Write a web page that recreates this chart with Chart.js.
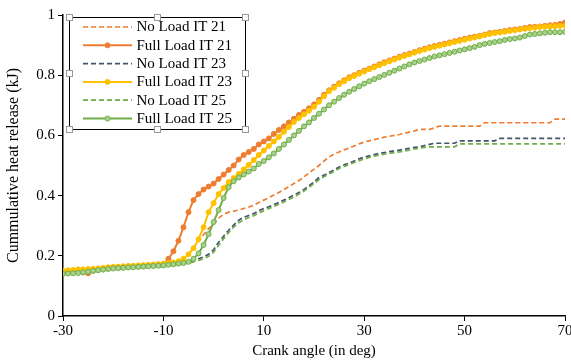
<!DOCTYPE html>
<html>
<head>
<meta charset="utf-8">
<script src="https://cdn.jsdelivr.net/npm/chart.js@4/dist/chart.umd.min.js"></script>
<style>
html,body{margin:0;padding:0;background:#fff;}
canvas{display:block;}
</style>
</head>
<body>
<canvas id="c" width="571" height="360"></canvas>
<script>
const angles = [-30,-29,-28,-27,-26,-25,-24,-23,-22,-21,-20,-19,-18,-17,-16,-15,-14,-13,-12,-11,-10,
-9,-8,-7,-6,-5,-4,-3,-2,-1,0,1,2,3,4,5,6,7,8,9,10,11,12,13,14,15,16,17,18,19,20,
21,22,23,24,25,26,27,28,29,30,31,32,33,34,35,36,37,38,39,40,41,42,43,44,45,46,47,48,49,50,
51,52,53,54,55,56,57,58,59,60,61,62,63,64,65,66,67,68,69,70];

const seriesNames = ["No Load IT 21","Full Load IT 21","No Load IT 23","Full Load IT 23","No Load IT 25","Full Load IT 25"];

const noLoad21 = [0.145,0.147,0.150,0.152,0.153,0.155,0.157,0.158,0.160,0.163,0.165,0.166,0.167,0.168,0.168,0.168,0.168,0.168,0.169,0.170,0.170,
0.172,0.175,0.180,0.190,0.205,0.225,0.250,0.270,0.290,0.305,
0.325,0.338,0.345,0.348,0.352,0.357,0.362,0.368,0.377,0.385,
0.393,0.402,0.410,0.420,0.430,0.440,0.450,0.462,0.475,0.488,
0.500,0.515,0.528,0.538,0.545,0.552,0.558,0.565,0.572,0.578,
0.582,0.586,0.590,0.594,0.597,0.600,0.603,0.607,0.611,0.615,
0.620,0.620,0.620,0.625,0.631,0.631,0.631,0.631,0.631,0.631,
0.631,0.631,0.631,0.642,0.642,0.642,0.642,0.642,0.642,0.642,
0.642,0.642,0.642,0.642,0.642,0.642,0.642,0.654,0.654,0.654];

const fullLoad21 = [0.145,0.145,0.147,0.148,0.145,0.142,0.150,0.155,0.158,0.160,0.162,0.163,0.164,0.165,0.165,0.166,0.167,0.168,0.170,0.171,0.172,
0.190,0.215,0.250,0.295,0.345,0.385,0.405,0.420,0.430,0.440,
0.455,0.470,0.485,0.500,0.520,0.535,0.545,0.555,0.570,0.580,
0.590,0.605,0.618,0.630,0.643,0.655,0.668,0.678,0.690,0.703,
0.718,0.735,0.750,0.762,0.773,0.783,0.793,0.800,0.808,0.815,
0.822,0.829,0.836,0.843,0.849,0.855,0.861,0.867,0.872,0.877,
0.883,0.888,0.893,0.897,0.901,0.905,0.909,0.913,0.917,0.921,
0.925,0.928,0.931,0.935,0.940,0.942,0.944,0.947,0.950,0.952,
0.954,0.957,0.960,0.961,0.962,0.964,0.966,0.967,0.970,0.975];

const noLoad23 = [0.143,0.144,0.146,0.148,0.150,0.151,0.152,0.153,0.154,0.155,0.157,0.158,0.159,0.160,0.161,0.162,0.163,0.164,0.165,0.166,0.168,
0.170,0.172,0.174,0.177,0.180,0.185,0.190,0.196,0.205,0.220,
0.245,0.265,0.285,0.302,0.318,0.328,0.334,0.340,0.350,0.357,
0.363,0.370,0.377,0.385,0.393,0.402,0.410,0.420,0.432,0.445,
0.460,0.468,0.477,0.485,0.495,0.502,0.508,0.515,0.522,0.528,
0.532,0.536,0.540,0.543,0.546,0.549,0.551,0.554,0.557,0.560,
0.562,0.566,0.570,0.574,0.574,0.574,0.574,0.574,0.582,0.582,
0.582,0.582,0.582,0.582,0.582,0.582,0.590,0.590,0.590,0.590,
0.590,0.590,0.590,0.590,0.590,0.590,0.590,0.590,0.590,0.590];

const fullLoad23 = [0.150,0.152,0.153,0.155,0.155,0.156,0.157,0.158,0.160,0.162,0.163,0.164,0.165,0.166,0.167,0.168,0.169,0.170,0.171,0.172,0.174,
0.176,0.178,0.182,0.190,0.205,0.225,0.255,0.295,0.345,0.375,
0.405,0.425,0.445,0.458,0.472,0.487,0.502,0.518,0.535,0.550,
0.565,0.580,0.595,0.612,0.628,0.645,0.658,0.670,0.682,0.695,
0.712,0.730,0.747,0.758,0.770,0.780,0.790,0.797,0.805,0.812,
0.820,0.826,0.833,0.840,0.846,0.852,0.858,0.864,0.869,0.875,
0.880,0.885,0.890,0.894,0.898,0.902,0.906,0.910,0.914,0.918,
0.922,0.925,0.929,0.933,0.937,0.940,0.942,0.944,0.947,0.949,
0.952,0.954,0.956,0.958,0.960,0.961,0.962,0.963,0.964,0.965];

const noLoad25 = [0.140,0.141,0.143,0.145,0.147,0.148,0.150,0.151,0.152,0.153,0.155,0.156,0.157,0.158,0.159,0.160,0.161,0.162,0.163,0.164,0.165,
0.167,0.169,0.171,0.173,0.176,0.180,0.185,0.190,0.198,0.212,
0.235,0.257,0.277,0.295,0.310,0.320,0.327,0.333,0.342,0.350,
0.357,0.364,0.371,0.379,0.387,0.396,0.405,0.415,0.427,0.440,
0.453,0.463,0.472,0.480,0.490,0.497,0.503,0.510,0.516,0.522,
0.527,0.531,0.535,0.538,0.541,0.543,0.545,0.548,0.551,0.555,
0.558,0.560,0.562,0.562,0.562,0.562,0.562,0.562,0.572,0.572,
0.572,0.572,0.572,0.572,0.572,0.572,0.572,0.572,0.572,0.572,
0.572,0.572,0.572,0.572,0.572,0.572,0.572,0.572,0.572,0.572];

const fullLoad25 = [0.140,0.141,0.142,0.143,0.145,0.147,0.150,0.152,0.154,0.156,0.158,0.159,0.160,0.161,0.162,0.163,0.164,0.165,0.166,0.167,0.168,
0.170,0.172,0.174,0.176,0.180,0.190,0.208,0.236,0.272,0.312,
0.352,0.392,0.428,0.448,0.460,0.470,0.480,0.490,0.505,0.515,
0.527,0.540,0.555,0.570,0.585,0.600,0.615,0.630,0.643,0.658,
0.672,0.686,0.700,0.712,0.724,0.735,0.745,0.754,0.763,0.772,
0.780,0.787,0.794,0.801,0.808,0.815,0.822,0.829,0.836,0.842,
0.847,0.852,0.857,0.862,0.866,0.870,0.874,0.878,0.882,0.886,
0.890,0.894,0.900,0.904,0.907,0.910,0.913,0.917,0.920,0.922,
0.925,0.930,0.935,0.937,0.939,0.941,0.943,0.943,0.943,0.944];

const xTicks = [-30,-10,10,30,50,70];
const yTicks = [0,0.2,0.4,0.6,0.8,1];
const yTickLabels = ["0","0.2","0.4","0.6","0.8","1"];

const ORANGE = '#ED7D31', BLUE = '#44546A', YELLOW = '#FFC000', GREEN = '#70AD47';
const FONT = "'Liberation Serif','Times New Roman',serif";

function pts(arr){ return angles.map((a,i)=>({x:a,y:arr[i]})); }

function dashed(label, data, color, order){
  return {label, data: pts(data), borderColor: color, backgroundColor: color,
    borderWidth: 1.7, borderDash: [5,3], pointRadius: 0, tension: 0, order};
}
function solid(label, data, color, fill, order){
  return {label, data: pts(data), borderColor: color, backgroundColor: color,
    borderWidth: 2, pointRadius: 2.5, pointBorderWidth: 1, pointBorderColor: color,
    pointBackgroundColor: fill, tension: 0, order};
}

const datasets = [
  dashed(seriesNames[0], noLoad21, ORANGE, 6),
  solid(seriesNames[1], fullLoad21, ORANGE, ORANGE, 5),
  dashed(seriesNames[2], noLoad23, BLUE, 4),
  solid(seriesNames[3], fullLoad23, YELLOW, YELLOW, 3),
  dashed(seriesNames[4], noLoad25, GREEN, 2),
  solid(seriesNames[5], fullLoad25, GREEN, '#A9D18E', 1)
];

const legendPlugin = {
  id: 'boxLegend',
  afterDraw(chart){
    const ctx = chart.ctx;
    const bx = 69, by = 17, bw = 176, bh = 112;
    ctx.save();
    ctx.fillStyle = '#fff';
    ctx.fillRect(bx, by, bw, bh);
    ctx.strokeStyle = '#000';
    ctx.lineWidth = 1;
    ctx.strokeRect(bx + 0.5, by + 0.5, bw, bh);
    const rowY0 = 27, rowH = 18.3;
    chart.data.datasets.forEach((ds, i) => {
      const y = rowY0 + i * rowH;
      ctx.beginPath();
      ctx.strokeStyle = ds.borderColor;
      ctx.lineWidth = ds.borderWidth;
      ctx.setLineDash(ds.borderDash || []);
      ctx.moveTo(83, y);
      ctx.lineTo(132, y);
      ctx.stroke();
      ctx.setLineDash([]);
      if (ds.pointRadius > 0) {
        ctx.beginPath();
        ctx.arc(107.5, y, ds.pointRadius, 0, Math.PI * 2);
        ctx.fillStyle = ds.pointBackgroundColor;
        ctx.fill();
        ctx.lineWidth = 1;
        ctx.strokeStyle = ds.pointBorderColor;
        ctx.stroke();
      }
      ctx.fillStyle = '#000';
      ctx.font = '15px ' + FONT;
      ctx.textAlign = 'left';
      ctx.textBaseline = 'middle';
      ctx.fillText(ds.label, 136.5, y + 0.5);
    });
    const hs = [[bx,by],[bx+bw/2,by],[bx+bw,by],[bx,by+bh/2],[bx+bw,by+bh/2],[bx,by+bh],[bx+bw/2,by+bh],[bx+bw,by+bh]];
    hs.forEach(([hx,hy]) => {
      ctx.fillStyle = '#fff';
      ctx.fillRect(Math.round(hx) - 3, Math.round(hy) - 3, 7, 7);
      ctx.strokeStyle = '#9a9a9a';
      ctx.lineWidth = 1;
      ctx.strokeRect(Math.round(hx) - 2.5, Math.round(hy) - 2.5, 6, 6);
    });
    ctx.restore();
  }
};

new Chart(document.getElementById('c'), {
  type: 'line',
  data: { datasets },
  options: {
    responsive: false,
    devicePixelRatio: 1,
    animation: false,
    layout: { padding: { top: 15, right: 6, left: 0, bottom: 0 } },
    plugins: { legend: { display: false }, tooltip: { enabled: false } },
    scales: {
      x: {
        type: 'linear', min: -30, max: 70,
        afterBuildTicks(s){ s.ticks = xTicks.map(v => ({value: v})); },
        afterFit(s){ s.height = 44; s.paddingLeft = 0; s.paddingRight = 0; },
        grid: { display: true, drawOnChartArea: false, drawTicks: true, tickLength: 5, color: '#000', lineWidth: 1 },
        border: { display: true, color: '#000', width: 1.5 },
        ticks: { color: '#000', padding: 1, maxRotation: 0, autoSkip: false, font: { family: FONT, size: 15 } },
        title: { display: true, text: 'Crank angle (in deg)', color: '#000', font: { family: FONT, size: 15 }, padding: { top: 2, bottom: 0 } }
      },
      y: {
        type: 'linear', min: 0, max: 1,
        afterBuildTicks(s){ s.ticks = yTicks.map(v => ({value: v})); },
        afterFit(s){ s.width = 63; s.paddingTop = 0; s.paddingBottom = 0; },
        grid: { display: true, drawOnChartArea: false, drawTicks: true, tickLength: 5, color: '#000', lineWidth: 1 },
        border: { display: true, color: '#000', width: 1.5 },
        ticks: { color: '#000', padding: 3, autoSkip: false, font: { family: FONT, size: 15 },
          callback: (v) => { const i = yTicks.indexOf(v); return i >= 0 ? yTickLabels[i] : ''; } },
        title: { display: true, text: 'Cummulative heat release (kJ)', color: '#000', font: { family: FONT, size: 16 }, padding: { top: 4, bottom: 0 } }
      }
    }
  },
  plugins: [legendPlugin]
});
</script>
</body>
</html>
